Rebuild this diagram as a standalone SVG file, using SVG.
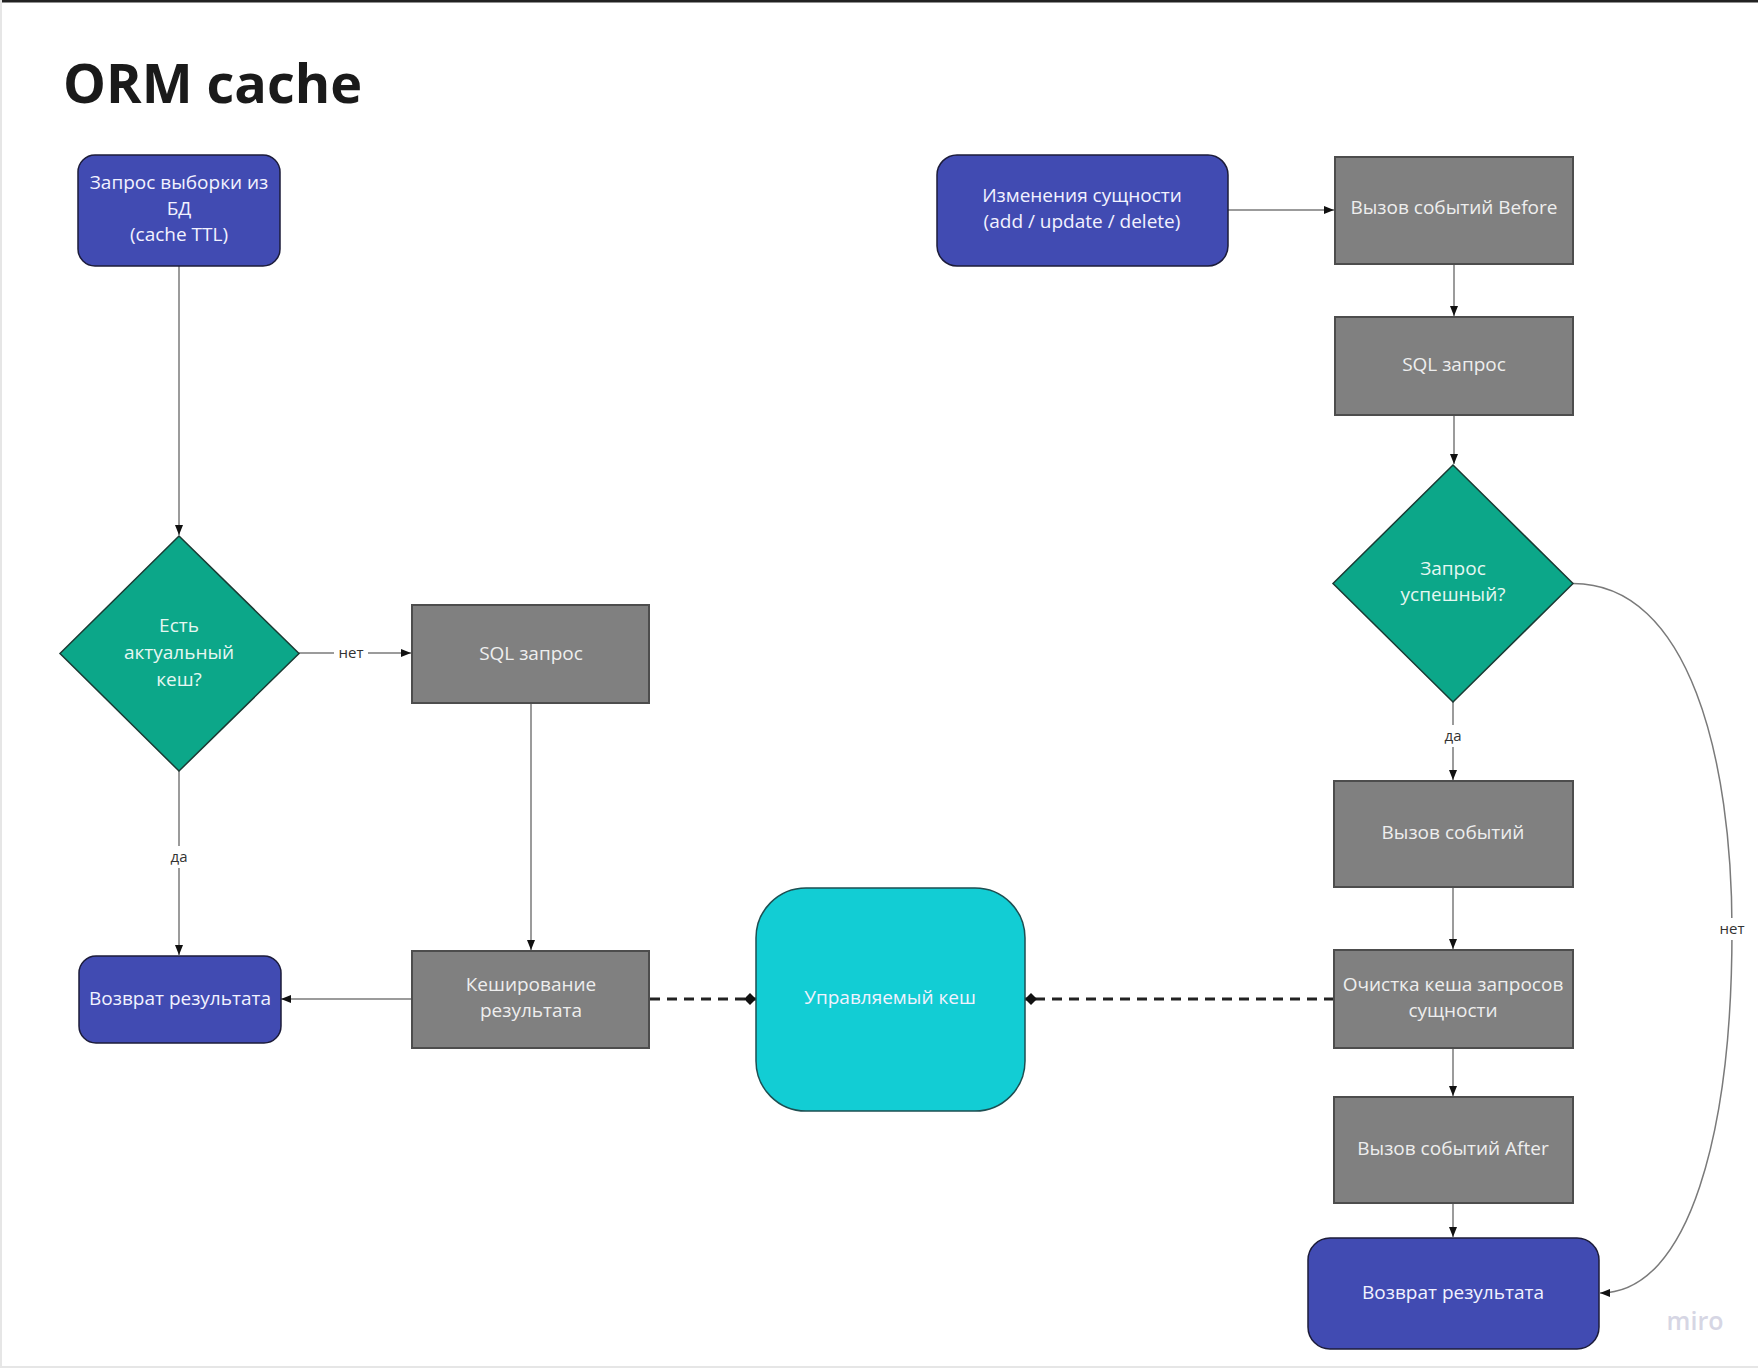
<svg xmlns="http://www.w3.org/2000/svg" width="1758" height="1368" viewBox="0 0 1758 1368">
<style>
  text { font-family: "Open Sans", "Noto Sans", "DejaVu Sans", sans-serif; }
  .blue { fill: #414BB2; stroke: #1c1c3a; stroke-width: 1.5; }
  .grey { fill: #808080; stroke: #4d4d4d; stroke-width: 2; }
  .green { fill: #0CA789; stroke: #1a3a33; stroke-width: 1.5; }
  .cyan { fill: #12CDD4; stroke: #1d4f52; stroke-width: 1.5; }
  .t { font-size: 19px; text-anchor: middle; }
  .tw { fill: #f2f2ff; }
  .tg { fill: #eeeeee; }
  .td { fill: #e6f7f2; }
  .conn { fill: none; stroke: #7a7a7a; stroke-width: 1.5; }
  .dash { fill: none; stroke: #222222; stroke-width: 3; stroke-dasharray: 10 7; }
  .lbl { font-size: 15px; text-anchor: middle; fill: #333333; }
</style>
<defs>
  <marker id="arr" markerUnits="userSpaceOnUse" markerWidth="10" markerHeight="8" refX="10" refY="4" orient="auto">
    <path d="M0,0 L10,4 L0,8 z" fill="#111111"/>
  </marker>
  <marker id="dia" markerUnits="userSpaceOnUse" markerWidth="13" markerHeight="12" refX="12" refY="6" orient="auto">
    <path d="M0,6 L6,0 L12,6 L6,12 z" fill="#111111"/>
  </marker>
</defs>
<rect x="0" y="0" width="1758" height="1368" fill="#ffffff"/>
<rect x="0" y="0" width="1758" height="2.5" fill="#222222"/>
<rect x="0" y="0" width="2" height="1368" fill="#e6e6e6"/>
<rect x="0" y="1366" width="1758" height="2" fill="#e6e6e6"/>

<text x="63" y="103" font-size="54" font-weight="bold" fill="#1a1a1a">ORM cache</text>

<g id="connectors">
  <path class="conn" d="M179 266 V535" marker-end="url(#arr)"/>
  <path class="conn" d="M299 653 H411" marker-end="url(#arr)"/>
  <rect x="334" y="642" width="34" height="20" fill="#ffffff"/>
  <text class="lbl" x="351" y="658">нет</text>
  <path class="conn" d="M179 771 V955" marker-end="url(#arr)"/>
  <rect x="166" y="846" width="26" height="22" fill="#ffffff"/>
  <text class="lbl" x="179" y="862">да</text>
  <path class="conn" d="M531 703 V950" marker-end="url(#arr)"/>
  <path class="conn" d="M412 999 H281" marker-end="url(#arr)"/>
  <path class="dash" d="M650 999 H756" marker-end="url(#dia)"/>
  <path class="dash" d="M1334 999 H1025" marker-end="url(#dia)"/>
  <path class="conn" d="M1228 210 H1334" marker-end="url(#arr)"/>
  <path class="conn" d="M1454 264 V316" marker-end="url(#arr)"/>
  <path class="conn" d="M1454 415 V464" marker-end="url(#arr)"/>
  <path class="conn" d="M1453 702 V780" marker-end="url(#arr)"/>
  <rect x="1440" y="725" width="26" height="22" fill="#ffffff"/>
  <text class="lbl" x="1453" y="741">да</text>
  <path class="conn" d="M1453 887 V949" marker-end="url(#arr)"/>
  <path class="conn" d="M1453 1048 V1096" marker-end="url(#arr)"/>
  <path class="conn" d="M1453 1203 V1237" marker-end="url(#arr)"/>
  <path class="conn" d="M1573 583.5 C1690 583.5 1732 760 1732 930 C1732 1130 1690 1293 1600 1293" marker-end="url(#arr)"/>
  <rect x="1714" y="918" width="36" height="22" fill="#ffffff"/>
  <text class="lbl" x="1732" y="934">нет</text>
</g>

<g id="node-query">
  <rect class="blue" x="78" y="155" width="202" height="111" rx="17"/>
  <text class="t tw" x="179" y="189">Запрос выборки из</text>
  <text class="t tw" x="179" y="215">БД</text>
  <text class="t tw" x="179" y="241">(cache TTL)</text>
</g>
<g id="node-has-cache">
  <polygon class="green" points="179,536 299,653.5 179,771 60,653.5"/>
  <text class="t td" x="179" y="632">Есть</text>
  <text class="t td" x="179" y="659">актуальный</text>
  <text class="t td" x="179" y="686">кеш?</text>
</g>
<g id="node-sql-left">
  <rect class="grey" x="412" y="605" width="237" height="98"/>
  <text class="t tg" x="531" y="660">SQL запрос</text>
</g>
<g id="node-caching">
  <rect class="grey" x="412" y="951" width="237" height="97"/>
  <text class="t tg" x="531" y="991">Кеширование</text>
  <text class="t tg" x="531" y="1017">результата</text>
</g>
<g id="node-return-left">
  <rect class="blue" x="79" y="956" width="202" height="87" rx="17"/>
  <text class="t tw" x="180" y="1005">Возврат результата</text>
</g>
<g id="node-managed-cache">
  <rect class="cyan" x="756" y="888" width="269" height="223" rx="50"/>
  <text class="t tw" x="890" y="1004">Управляемый кеш</text>
</g>
<g id="node-entity-change">
  <rect class="blue" x="937" y="155" width="291" height="111" rx="20"/>
  <text class="t tw" x="1082" y="202">Изменения сущности</text>
  <text class="t tw" x="1082" y="228">(add / update / delete)</text>
</g>
<g id="node-before">
  <rect class="grey" x="1335" y="157" width="238" height="107"/>
  <text class="t tg" x="1454" y="214">Вызов событий Before</text>
</g>
<g id="node-sql-right">
  <rect class="grey" x="1335" y="317" width="238" height="98"/>
  <text class="t tg" x="1454" y="371">SQL запрос</text>
</g>
<g id="node-success">
  <polygon class="green" points="1453,465 1573,583.5 1453,702 1333,583.5"/>
  <text class="t td" x="1453" y="575">Запрос</text>
  <text class="t td" x="1453" y="601">успешный?</text>
</g>
<g id="node-events">
  <rect class="grey" x="1334" y="781" width="239" height="106"/>
  <text class="t tg" x="1453" y="839">Вызов событий</text>
</g>
<g id="node-clear">
  <rect class="grey" x="1334" y="950" width="239" height="98"/>
  <text class="t tg" x="1453" y="991">Очистка кеша запросов</text>
  <text class="t tg" x="1453" y="1017">сущности</text>
</g>
<g id="node-after">
  <rect class="grey" x="1334" y="1097" width="239" height="106"/>
  <text class="t tg" x="1453" y="1155">Вызов событий After</text>
</g>
<g id="node-return-right">
  <rect class="blue" x="1308" y="1238" width="291" height="111" rx="22"/>
  <text class="t tw" x="1453" y="1299">Возврат результата</text>
</g>

<text x="1695" y="1330" font-size="25" font-weight="600" text-anchor="middle" fill="#d6d6e4">miro</text>
</svg>
